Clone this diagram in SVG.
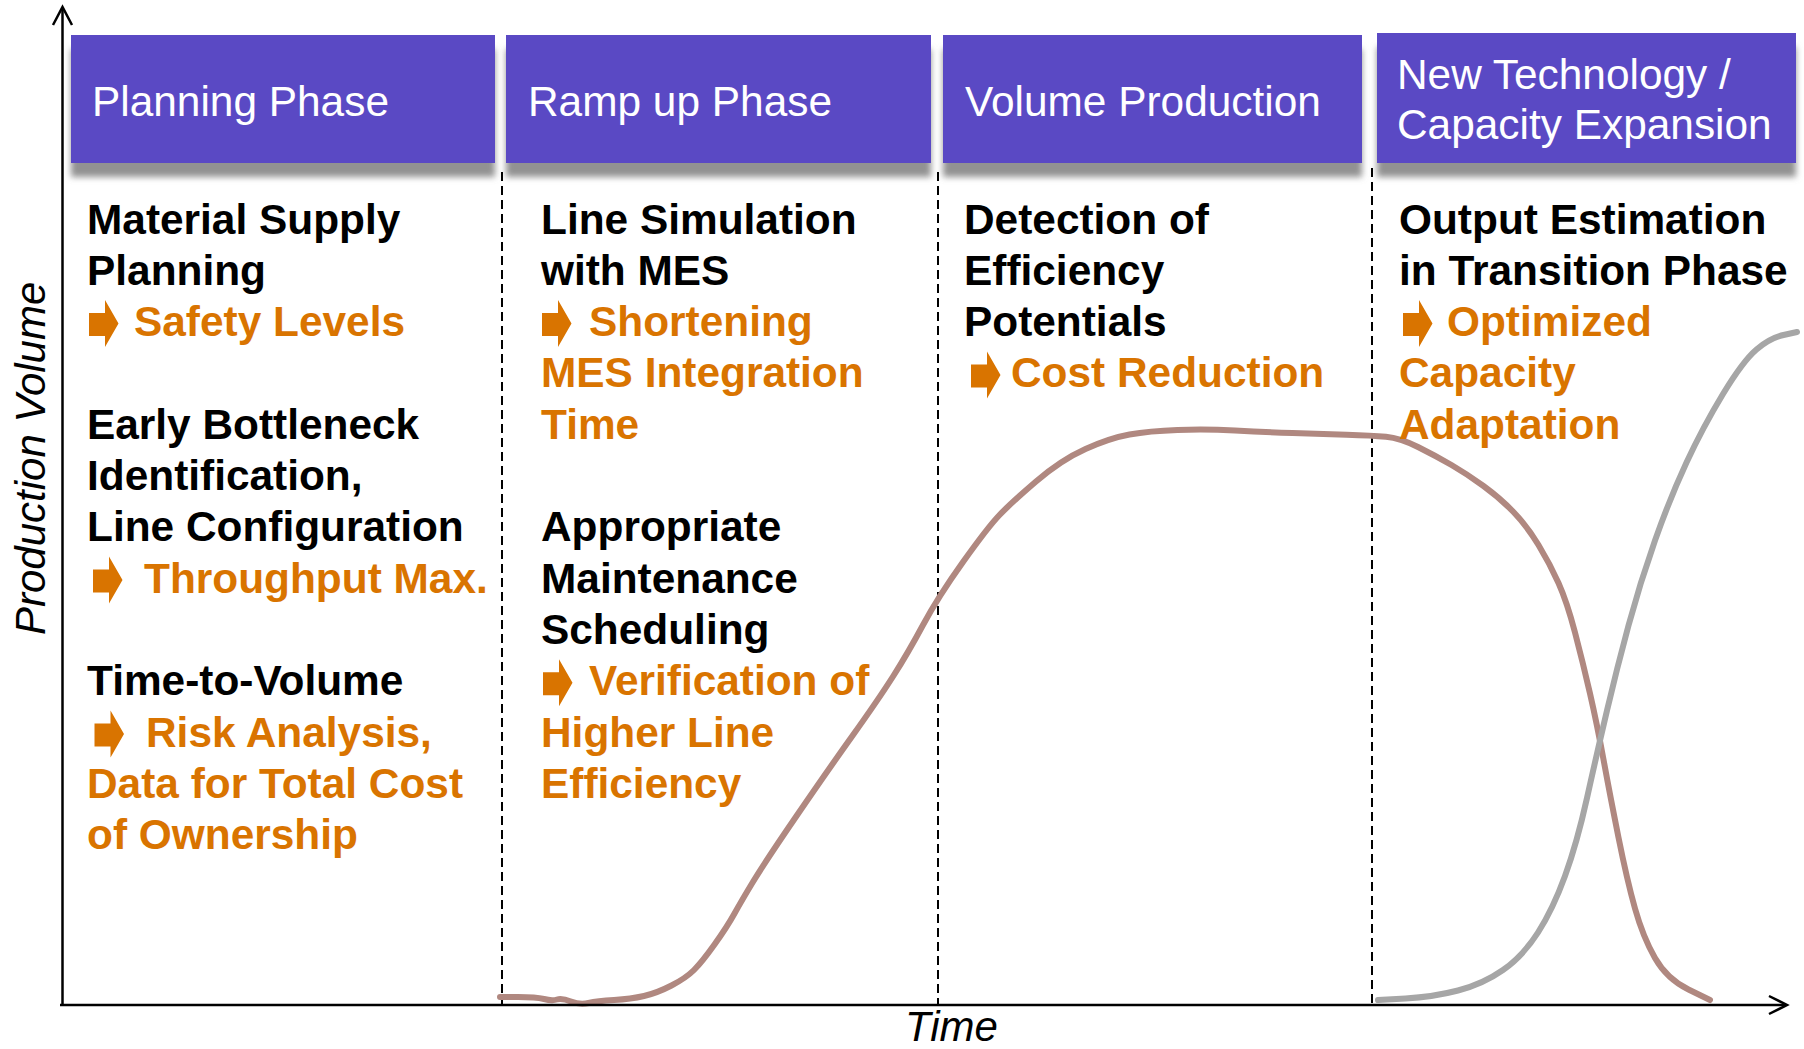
<svg xmlns="http://www.w3.org/2000/svg" xmlns:xlink="http://www.w3.org/1999/xlink" width="1804" height="1049" viewBox="0 0 1804 1049">
<defs>
<style>
.hdr{fill:#5A4AC4;filter:url(#sh)}
.ht{font-family:"Liberation Sans",Arial,sans-serif;font-size:42.4px;fill:#fff}
.b{font-family:"Liberation Sans",Arial,sans-serif;font-size:42.4px;font-weight:bold;fill:#000}
.o{fill:#D97400}
.dash{stroke:#000;stroke-width:2;stroke-dasharray:9 5;fill:none}
.ax{stroke:#000;stroke-width:2.5;fill:none}
.axt{font-family:"Liberation Sans",Arial,sans-serif;font-size:42px;font-style:italic;fill:#000}
.arr{fill:#D97400}
</style>
<filter id="sh" x="-5%" y="-10%" width="110%" height="140%">
<feDropShadow dx="0" dy="14" stdDeviation="3" flood-color="#7f7f7f" flood-opacity="0.85"/>
</filter>
<path id="ar" class="arr" d="M0,-23 H16 V-36 L29.5,-12.5 L16,11 V0 H0 Z"/>
</defs>
<rect width="1804" height="1049" fill="#fff"/>

<g id="headers">
<g id="h-planning"><rect class="hdr" x="71" y="35" width="424" height="128"/><text class="ht" x="92" y="116">Planning Phase</text></g>
<g id="h-rampup"><rect class="hdr" x="506" y="35" width="425" height="128"/><text class="ht" x="528" y="116">Ramp up Phase</text></g>
<g id="h-volume"><rect class="hdr" x="943" y="35" width="419" height="128"/><text class="ht" x="965" y="116">Volume Production</text></g>
<g id="h-newtech"><rect class="hdr" x="1377" y="33" width="419" height="130"/><text class="ht" x="1397" y="89">New Technology /</text><text class="ht" x="1397" y="139">Capacity Expansion</text></g>
</g>

<g id="connectors">
<line class="dash" x1="502" y1="172" x2="502" y2="1004"/>
<line class="dash" x1="938" y1="172" x2="938" y2="1004"/>
<line class="dash" x1="1372" y1="168" x2="1372" y2="1004"/>
<path d="M500,997 L518,997 Q536,997 544,999 Q552,1001 557,999.5 Q562,998 571,1001.5 Q580,1005 588.5,1003 Q597,1001 614,1000 Q631,999 644,996 Q657,993 671.5,985.5 Q686,978 694,970 Q702,962 714.5,944.5 Q727,927 734.5,913.5 Q742,900 753.5,881 Q765,862 796.5,816 Q828,770 853,735 Q878,700 893,676.5 Q908,653 923,625 Q938,597 963,562 Q988,527 999.5,515 Q1011,503 1036,481.5 Q1061,460 1085.5,449 Q1110,438 1129.5,434.5 Q1149,431 1177.5,430 Q1206,429 1235,430.5 Q1264,432 1292.5,433 Q1321,434 1346.5,434.75 Q1372,435.5 1386,436.75 Q1400,438 1418,447 Q1436,456 1451.5,465 Q1467,474 1483.5,486 Q1500,498 1513.5,512 Q1527,526 1538.5,545 Q1550,564 1558.5,583 Q1567,602 1575,632.5 Q1583,663 1590,693.5 Q1597,724 1603.5,759.5 Q1610,795 1618.5,837.5 Q1627,880 1635,908.5 Q1643,937 1655,958 Q1667,979 1688.5,989.5 L1710,1000" fill="none" stroke="#B08880" stroke-width="6" stroke-linecap="round" stroke-linejoin="round"/>
<path d="M1378,1000 L1405.5,998.5 Q1433,997 1458,990.5 Q1483,984 1503,970 Q1523,956 1538,932.5 Q1553,909 1565,876 Q1577,843 1587,798 Q1597,753 1607,710.5 Q1617,668 1628.5,625.5 Q1640,583 1655,540.5 Q1670,498 1686.5,462.5 Q1703,427 1723,394 Q1743,361 1756.5,349.5 Q1770,338 1783.5,335 L1797,332" fill="none" stroke="#A6A6A6" stroke-width="6" stroke-linecap="round" stroke-linejoin="round"/>
<line class="ax" x1="62.5" y1="8" x2="62.5" y2="1005"/>
<polyline class="ax" points="53,25 62.5,7 72,25"/>
<line class="ax" x1="60" y1="1005" x2="1786" y2="1005" stroke-width="3"/>
<polyline class="ax" points="1769,996 1787,1005 1769,1014"/>
</g>

<g id="axis-labels">
<text class="axt" transform="translate(45,635) rotate(-90)">Production Volume</text>
<text class="axt" x="905" y="1041">Time</text>
</g>

<g id="col-planning" class="b">
<text x="87" y="233.5">Material Supply</text>
<text x="87" y="284.8">Planning</text>
<use xlink:href="#ar" x="89" y="336.1"/>
<text class="o" x="134" y="336.1">Safety Levels</text>
<text x="87" y="438.7">Early Bottleneck</text>
<text x="87" y="490">Identification,</text>
<text x="87" y="541.3">Line Configuration</text>
<use xlink:href="#ar" x="93" y="592.6"/>
<text class="o" x="144" y="592.6">Throughput Max.</text>
<text x="87" y="695.2">Time-to-Volume</text>
<use xlink:href="#ar" x="94.5" y="746.5"/>
<text class="o" x="146" y="746.5">Risk Analysis,</text>
<text class="o" x="87" y="797.8">Data for Total Cost</text>
<text class="o" x="87" y="849.1">of Ownership</text>
</g>

<g id="col-rampup" class="b">
<text x="541" y="233.5">Line Simulation</text>
<text x="541" y="284.8">with MES</text>
<use xlink:href="#ar" x="542" y="336.1"/>
<text class="o" x="589" y="336.1">Shortening</text>
<text class="o" x="541" y="387.4">MES Integration</text>
<text class="o" x="541" y="438.7">Time</text>
<text x="541" y="541.3">Appropriate</text>
<text x="541" y="592.6">Maintenance</text>
<text x="541" y="643.9">Scheduling</text>
<use xlink:href="#ar" x="543" y="695.2"/>
<text class="o" x="589" y="695.2">Verification of</text>
<text class="o" x="541" y="746.5">Higher Line</text>
<text class="o" x="541" y="797.8">Efficiency</text>
</g>

<g id="col-volume" class="b">
<text x="964" y="233.5">Detection of</text>
<text x="964" y="284.8">Efficiency</text>
<text x="964" y="336.1">Potentials</text>
<use xlink:href="#ar" x="971" y="387.4"/>
<text class="o" x="1011" y="387.4">Cost Reduction</text>
</g>

<g id="col-newtech" class="b">
<text x="1399" y="233.5">Output Estimation</text>
<text x="1399" y="284.8">in Transition Phase</text>
<use xlink:href="#ar" x="1403" y="336.1"/>
<text class="o" x="1447" y="336.1">Optimized</text>
<text class="o" x="1399" y="387.4">Capacity</text>
<text class="o" x="1399" y="438.7">Adaptation</text>
</g>
</svg>
